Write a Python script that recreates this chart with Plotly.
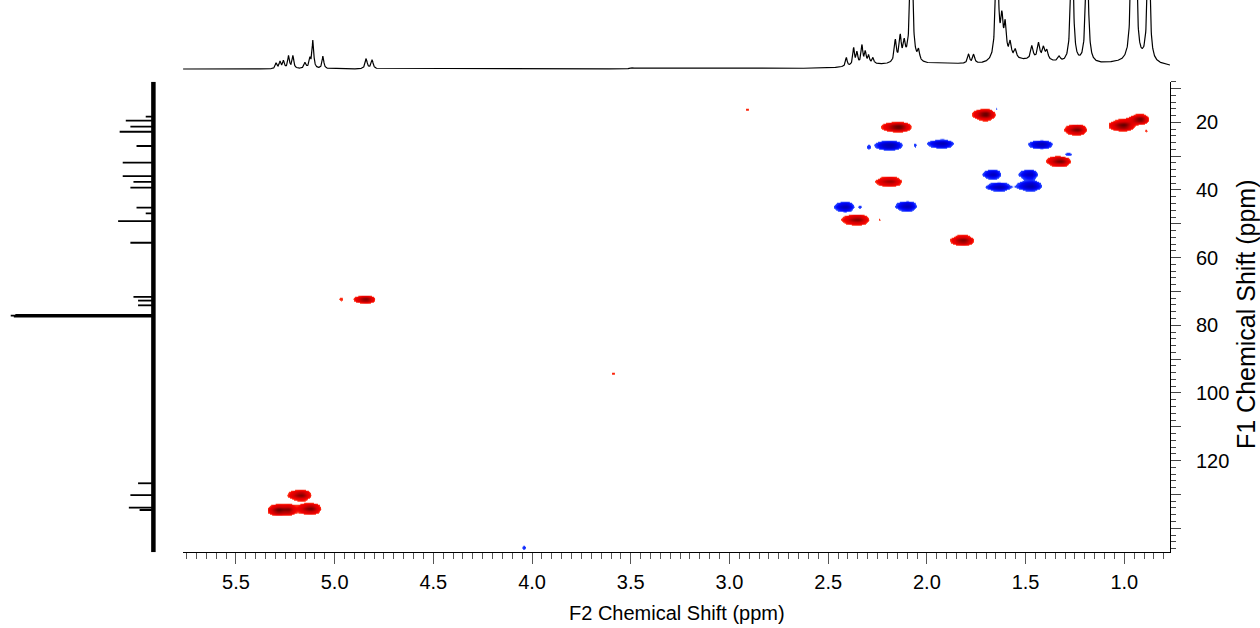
import numpy as np
import plotly.graph_objects as go

# ---------------- HSQC cross peaks ----------------
# F2 (1H, ppm), F1 (13C, ppm), signed intensity (+ CH/CH3, - CH2), FWHM in F2 and F1 (ppm)
pk_h = [1.703, 2.143, 2.185, 1.924, 1.417, 1.240, 1.004, 0.919, 1.324, 1.665,
        1.480, 1.632, 1.473, 2.185, 2.413, 2.098, 2.354, 1.814, 4.841, 5.170,
        5.290, 5.235, 5.123,
        2.910, 3.590, 4.040, 4.970, 1.284, 1.650, 0.890, 2.298, 2.060, 2.340, 2.240]
pk_c = [17.6, 21.3, 26.7, 26.2, 26.4, 22.1, 20.8, 19.0, 31.4, 35.3,
        35.3, 39.0, 38.7, 37.4, 44.9, 44.7, 48.7, 54.8, 72.2, 130.1,
        134.5, 134.4, 134.1,
        16.1, 94.1, 145.6, 72.2, 29.4, 15.9, 22.5, 27.3, 26.7, 44.9, 48.7]
pk_amp = [1.00, 1.00, -0.80, -0.75, -0.75, 0.95, 1.00, 0.95, 0.95, -0.70,
          -0.70, -0.75, -0.80, 0.80, -0.75, -0.75, 0.90, 0.90, 0.90, 0.90,
          0.80, 0.85, 0.95,
          0.26, 0.26, -0.30, 0.25, -0.32, -0.26, 0.25, -0.25, -0.25, -0.26, 0.24]
pk_w2 = [0.075, 0.097, 0.100, 0.094, 0.090, 0.075, 0.085, 0.066, 0.082, 0.068,
         0.074, 0.087, 0.092, 0.097, 0.072, 0.076, 0.093, 0.083, 0.072, 0.079,
         0.060, 0.060, 0.082,
         0.022, 0.022, 0.022, 0.030, 0.045, 0.022, 0.020, 0.022, 0.020, 0.022, 0.022]
pk_w1 = [2.4, 2.2, 2.2, 1.95, 2.0, 2.15, 2.4, 2.2, 2.15, 2.05,
         2.05, 1.95, 2.3, 2.0, 2.15, 2.15, 2.15, 2.15, 1.7, 2.25,
         2.3, 2.3, 2.25,
         1.3, 1.3, 1.6, 1.3, 1.6, 1.3, 1.3, 1.3, 1.3, 1.3, 1.3]

# ---------------- 1H projection (F2) ----------------
h_ppm = [5.296, 5.276, 5.259, 5.233, 5.211, 5.150, 5.125, 5.110, 5.059, 4.840,
         4.810, 3.490, 2.408, 2.371, 2.354, 2.329, 2.312, 2.295, 2.273, 2.160,
         2.135, 2.115, 2.079, 2.042, 1.789, 1.763, 1.645, 1.620, 1.603, 1.578,
         1.552, 1.468, 1.434, 1.409, 1.392, 1.330, 1.265, 1.189, 0.961, 0.944,
         0.877,
         2.300, 2.120, 1.900, 1.560, 1.420, 1.050, 0.900]
h_int = [0.09, 0.11, 0.12, 0.20, 0.20, 0.09, 0.14, 0.44, 0.20, 0.16,
         0.14, 0.02, 0.14, 0.27, 0.19, 0.29, 0.18, 0.12, 0.09, 0.34,
         0.38, 0.26, 2.20, 0.16, 0.14, 0.14, 2.20, 0.56, 0.50, 0.24,
         0.14, 0.21, 0.25, 0.18, 0.14, 0.08, 2.20, 2.10, 2.20, 2.20,
         2.20,
         0.05, 0.06, 0.06, 0.08, 0.08, 0.05, 0.05]
h_hw = [0.005, 0.005, 0.005, 0.005, 0.005, 0.006, 0.005, 0.005, 0.005, 0.006,
        0.006, 0.010, 0.005, 0.005, 0.005, 0.005, 0.005, 0.005, 0.005, 0.006,
        0.006, 0.006, 0.0072, 0.006, 0.006, 0.006, 0.0072, 0.007, 0.007, 0.007,
        0.007, 0.007, 0.007, 0.007, 0.007, 0.008, 0.0072, 0.0072, 0.0072, 0.0072,
        0.0072,
        0.080, 0.080, 0.200, 0.120, 0.100, 0.150, 0.150]

# ---------------- 13C projection (F1) ----------------
c_ppm = [18.3, 19.5, 21.3, 22.8, 27.0, 31.9, 35.9, 37.6, 39.3, 45.2,
         46.9, 49.2, 55.6, 71.6, 72.7, 74.1, 76.9, 77.16, 77.4, 126.7,
         130.2, 133.9, 134.6]
c_int = [0.05, 0.18, 0.15, 0.22, 0.11, 0.20, 0.20, 0.13, 0.15, 0.11,
         0.05, 0.23, 0.15, 0.13, 0.10, 0.10, 0.90, 0.93, 0.91, 0.10,
         0.15, 0.16, 0.09]

# F1 axis labels
f1_labels = [20, 40, 60, 80, 100, 120]

F2_RANGE = [5.768, 0.7685]
F1_RANGE = [147.1, 8.0]
FONT = "Liberation Sans, Arial, sans-serif"

# ---- 2D map built from the cross-peak table ----
f2 = np.arange(0.76, 5.78, 0.005)
f1 = np.arange(7.5, 147.6, 0.35)
G2, G1 = np.meshgrid(f2, f1)
Z = np.zeros_like(G2)
for h, c, a, w2, w1 in zip(pk_h, pk_c, pk_amp, pk_w2, pk_w1):
    s2 = w2 / 2.355
    s1 = w1 / 2.355
    # cross peaks tail slightly toward higher 1H shift
    s2x = np.where(G2 > h, s2 * 1.2, s2 * 0.85)
    Z += a * np.exp(-0.5 * ((G2 - h) / s2x) ** 2 - 0.5 * ((G1 - c) / s1) ** 2)
Z = np.clip(Z, -1, 1)
Z = np.round(Z, 3).astype(np.float32)

cscale = [
    [0.000, "#00008c"],
    [0.200, "#0000d0"],
    [0.325, "#0008ff"],
    [0.400, "#2a4cff"],
    [0.4075, "#ffffff"],
    [0.5925, "#ffffff"],
    [0.600, "#ff3c1c"],
    [0.650, "#f40000"],
    [0.775, "#d80000"],
    [0.900, "#a00000"],
    [1.000, "#680000"],
]

fig = go.Figure()
fig.add_trace(go.Heatmap(
    x=f2, y=f1, z=Z, zmin=-1, zmax=1, colorscale=cscale, zsmooth="best",
    showscale=False, hoverinfo="skip", xaxis="x", yaxis="y"))

# ---- 1H trace from Lorentzian lines ----
hx = np.arange(0.7685, 5.768, 0.001)
hy = np.zeros_like(hx)
for p, i, w in zip(h_ppm, h_int, h_hw):
    hy += i * w * w / ((hx - p) ** 2 + w * w)
fig.add_trace(go.Scatter(x=hx, y=hy, mode="lines", line=dict(color="black", width=1.2),
                         xaxis="x2", yaxis="y2", hoverinfo="skip", showlegend=False))

# ---- 13C trace: baseline band plus sticks ----
fig.add_trace(go.Scatter(x=[0, 0], y=[F1_RANGE[1], F1_RANGE[0]], mode="lines",
                         line=dict(color="black", width=4.5),
                         xaxis="x3", yaxis="y3", hoverinfo="skip", showlegend=False))
sx, sy = [], []
for p, i in zip(c_ppm, c_int):
    sx += [0, i, None]
    sy += [p, p, None]
fig.add_trace(go.Scatter(x=sx, y=sy, mode="lines", line=dict(color="black", width=1.8),
                         xaxis="x3", yaxis="y3", hoverinfo="skip", showlegend=False))

W, H = 1260, 628
main_x = [183 / W, 1170 / W]
main_y = [(H - 552.3) / H, (H - 81.7) / H]

tick_vals = list(range(10, 150, 10))
tick_text = [str(v) if v in f1_labels else "" for v in tick_vals]

fig.update_layout(
    width=W, height=H, margin=dict(l=0, r=0, t=0, b=0),
    paper_bgcolor="white", plot_bgcolor="white",
    font=dict(family=FONT, color="black"),
    showlegend=False,
    xaxis=dict(domain=main_x, range=F2_RANGE, anchor="y", showgrid=False, zeroline=False,
               showline=True, linecolor="black", linewidth=1,
               ticks="outside", ticklen=11, tickwidth=1, tickcolor="#555555",
               tick0=0, dtick=0.5, tickformat=".1f", tickfont=dict(size=20, family=FONT),
               ticklabelstandoff=1,
               minor=dict(ticks="outside", dtick=0.05, tick0=0, ticklen=6, tickwidth=1,
                          tickcolor="#555555")),
    yaxis=dict(domain=main_y, range=F1_RANGE, anchor="x", side="right", showgrid=False,
               zeroline=False, showline=True, linecolor="black", linewidth=1,
               ticks="outside", ticklen=10, tickwidth=1, tickcolor="#444444",
               tickmode="array", tickvals=tick_vals, ticktext=tick_text,
               tickfont=dict(size=20, family=FONT), ticklabelstandoff=11,
               minor=dict(ticks="outside", dtick=2, tick0=0, ticklen=5, tickwidth=1,
                          tickcolor="#444444")),
    xaxis2=dict(domain=main_x, range=F2_RANGE, anchor="y2", visible=False),
    yaxis2=dict(domain=[(H - 76) / H, 1.0], range=[-0.11, 1.09], anchor="x2", visible=False),
    xaxis3=dict(domain=[0, 158 / W], range=[1.0, -0.03], anchor="y3", visible=False),
    yaxis3=dict(domain=main_y, range=F1_RANGE, anchor="x3", visible=False),
    annotations=[
        dict(text="F2 Chemical Shift (ppm)", x=677 / W, y=(H - 613) / H, xref="paper",
             yref="paper", xanchor="center", yanchor="middle", showarrow=False,
             font=dict(size=20, family=FONT)),
        dict(text="F1 Chemical Shift (ppm)", x=1246 / W, y=(H - 314) / H, xref="paper",
             yref="paper", xanchor="center", yanchor="middle", showarrow=False,
             textangle=-90, font=dict(size=25, family=FONT)),
    ],
)

fig.write_html("out.html")
